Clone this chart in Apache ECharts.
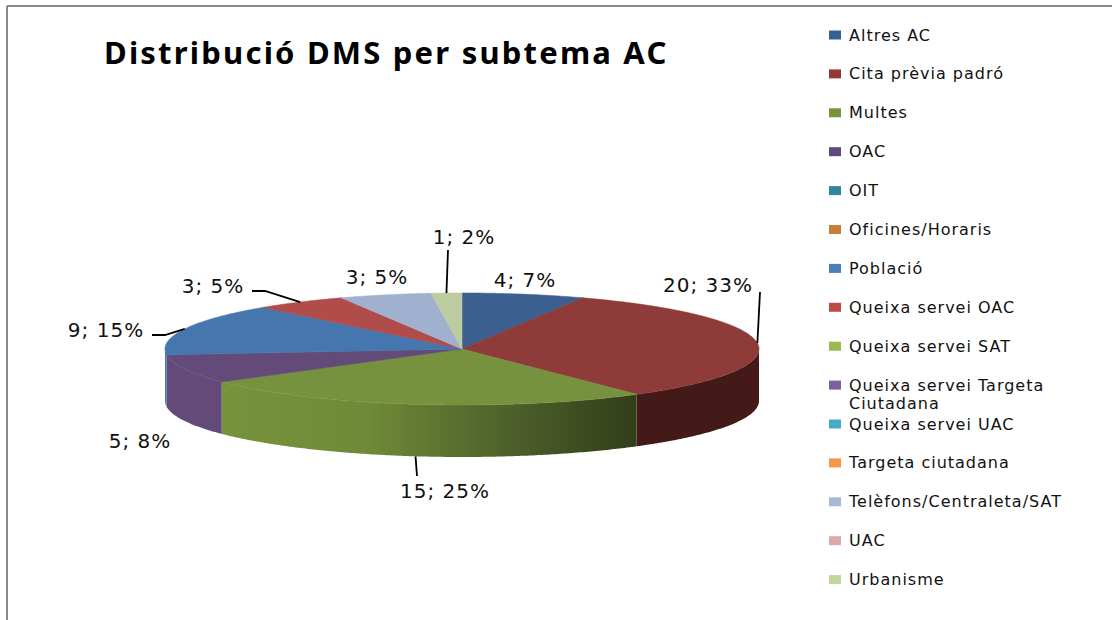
<!DOCTYPE html>
<html>
<head>
<meta charset="utf-8">
<script src="https://cdn.jsdelivr.net/npm/echarts@6/dist/echarts.min.js"></script>
<style>
html,body{margin:0;padding:0;background:#fff}
#main{width:1112px;height:620px}
#main svg text{letter-spacing:1px}
#main svg text[style*="bold"]{letter-spacing:2.2px}
</style>
</head>
<body>
<div id="main"></div>
<script>
const categories = ['Altres AC','Cita prèvia padró','Multes','OAC','OIT','Oficines/Horaris','Població','Queixa servei OAC','Queixa servei SAT','Queixa servei Targeta\nCiutadana','Queixa servei UAC','Targeta ciutadana','Telèfons/Centraleta/SAT','UAC','Urbanisme'];
const counts = [4,20,15,5,0,0,9,3,0,0,0,0,3,0,1];
const percents = [7,33,25,8,0,0,15,5,0,0,0,0,5,0,2];
const legendColors = ['#376092','#953735','#77933c','#604a7b','#31859c','#c77c3b','#4a7ebb','#be4b48','#98b954','#7d60a0','#46aac5','#f79646','#a7b9d6','#dba9a8','#c3d69b'];
const topColors = ['#3b6090','#8f3b39','#76923f','#644a78','#31859c','#c77c3b','#4676ae','#b04c4a','#9fb1cf','#7d60a0','#46aac5','#f79646','#9fb1cf','#dba9a8','#bccca0'];

// pie geometry, top ellipse + wall depth
const cx = 462, cy = 349, rx = 297, ry = 56, depth = 52;
// label centre and leader elbow per category index
const labelSpots = {
  0: {x:525, y:280},
  1: {x:708, y:285, elbow:[[760,292]]},
  2: {x:445, y:491, elbow:[[417,476]]},
  3: {x:140, y:441},
  6: {x:106, y:330, elbow:[[165,335],[152,335]]},
  7: {x:213, y:286, elbow:[[265,291],[252,291]]},
  12:{x:377, y:277},
  14:{x:464, y:237, elbow:[[448,250]]}
};

const total = counts.reduce((a,b)=>a+b,0);
let running = 0;
const starts = counts.map(v=>{ let s = running; running += v; return s; });

function onRim(t, dy){
  return [cx + rx*Math.sin(t), cy - ry*Math.cos(t) + (dy||0)];
}
function arcPoints(a, b, dy){
  let pts = [], n = Math.max(2, Math.ceil((b-a)/0.01));
  for(let i=0;i<=n;i++) pts.push(onRim(a+(b-a)*i/n, dy));
  return pts;
}
function wallFill(i){
  if(i==2) return new echarts.graphic.LinearGradient(0,0,1,0,[
    {offset:0,color:'#77933c'},{offset:0.35,color:'#6f8a38'},{offset:0.7,color:'#4d5f2a'},{offset:1,color:'#313e19'}]);
  if(i==1) return '#431a17';
  return topColors[i];
}

function drawSlice(i, api){
  let v = api.value(0);
  if(!v) return null;
  let a = api.value(1)/total*Math.PI*2, b = a + v/total*Math.PI*2;
  let kids = [];
  // wall is only seen on the front half of the rim
  let wa = Math.max(a, Math.PI/2), wb = Math.min(b, Math.PI*1.5);
  if(wb > wa){
    let pts = arcPoints(wa,wb,0).concat(arcPoints(wa,wb,depth).reverse());
    kids.push({type:'polygon', z2:1, shape:{points:pts}, style:{fill:wallFill(i)}});
  }
  kids.push({type:'polygon', z2:2, shape:{points:[[cx,cy]].concat(arcPoints(a,b,0))},
    style:{fill:topColors[i], stroke:topColors[i], lineWidth:0.6}});
  let spot = labelSpots[i];
  if(spot){
    kids.push({type:'text', z2:5, x:spot.x, y:spot.y, style:{
      text:v+'; '+percents[i]+'%', fill:'#111', font:'20px "DejaVu Sans"', align:'center', verticalAlign:'middle'}});
    if(spot.elbow){
      let mid = (a+b)/2;
      let start = onRim(mid, Math.cos(mid)<0 ? depth : 0);
      kids.push({type:'polyline', z2:4, shape:{points:[start].concat(spot.elbow)},
        style:{fill:null, stroke:'#000', lineWidth:1.8}});
    }
  }
  return {type:'group', children:kids};
}

const sliceSeries = categories.map((name,i)=>({
  type:'custom',
  name:name,
  coordinateSystem:'none',
  silent:true,
  itemStyle:{color:legendColors[i]},
  data:[[counts[i], starts[i]]],
  renderItem:function(params, api){ return drawSlice(i, api); }
}));

const chart = echarts.init(document.getElementById('main'), null, {renderer:'svg'});
chart.setOption({
  animation:false,
  backgroundColor:'#fff',
  title:{
    text:'Distribució DMS per subtema AC',
    left:99, top:31,
    textStyle:{fontFamily:'Noto Sans', fontWeight:'bold', fontSize:31, color:'#000'}
  },
  legend:{
    orient:'vertical',
    left:829, top:27,
    icon:'rect',
    itemWidth:12, itemHeight:9,
    itemGap:22.9,
    selectedMode:false,
    padding:0,
    data:categories,
    // second line of the wrapped name is drawn under it, it takes no legend row
    formatter:function(name){ return name.split('\n')[0]; },
    textStyle:{fontFamily:'DejaVu Sans', fontSize:16, color:'#111', height:16, lineHeight:16, padding:[0,0,0,3]}
  },
  graphic:[
    {type:'line', silent:true, shape:{x1:7,y1:6,x2:1112,y2:6}, style:{stroke:'#8a8a8a', lineWidth:2}},
    {type:'line', silent:true, shape:{x1:7,y1:6,x2:7,y2:620}, style:{stroke:'#8a8a8a', lineWidth:2}},
    {type:'text', silent:true, x:849, y:403, style:{text:categories[9].split('\n')[1], fill:'#111', font:'16px "DejaVu Sans"', verticalAlign:'middle'}}
  ],
  series:sliceSeries
});
</script>
</body>
</html>
